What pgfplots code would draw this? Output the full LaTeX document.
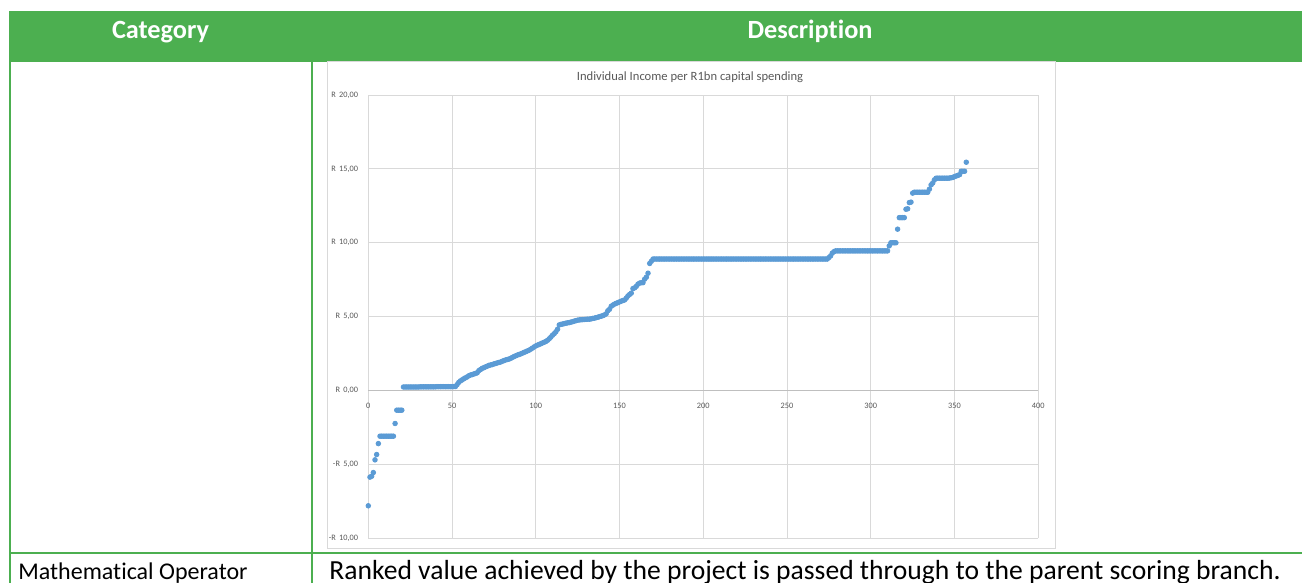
\documentclass[border=0pt]{standalone}
\usepackage{fontspec}
\setmainfont{Carlito}[Ligatures=NoCommon]
\usepackage{pgfplots}
\pgfplotsset{compat=1.18}
\definecolor{hdrgreen}{HTML}{4CAF50}
\definecolor{xlblue}{HTML}{5B9BD5}
\definecolor{gridc}{HTML}{D9D9D9}
\definecolor{zeroc}{HTML}{BFBFBF}
\definecolor{txtgray}{HTML}{595959}
\begin{document}
\begin{tikzpicture}
\begin{scope}[x=0.5pt,y=-0.5pt]
\fill[hdrgreen] (9,11) rectangle (1302,62);
\draw[hdrgreen,line width=1pt] (10,62) -- (10,583);
\draw[hdrgreen,line width=1pt] (312,62) -- (312,583);
\draw[hdrgreen,line width=1pt] (9,552.5) -- (1302,552.5);
\draw[gridc,fill=white,line width=0.5pt] (327,62) rectangle (1055,548);
\node[anchor=base,inner sep=0pt,text=white,font=\fontsize{13.15}{15}\selectfont\bfseries] at (160.5,39) {Category};
\node[anchor=base,inner sep=0pt,text=white,font=\fontsize{13.15}{15}\selectfont\bfseries] at (810,39) {Description};
\node[anchor=base west,inner sep=0pt,font=\fontsize{12}{14}\selectfont] at (18,579.5) {Mathematical Operator};
\node[anchor=base west,inner sep=0pt,font=\fontsize{13.8}{16}\selectfont] at (329,579.5) {Ranked value achieved by the project is passed through to the parent scoring branch.};
\node[anchor=base,inner sep=0pt,text=txtgray,font=\fontsize{6.3}{8}\selectfont] at (690,80.5) {Individual Income per R1bn capital spending};
\end{scope}
\begin{axis}[
  at={(184.15pt,-269.15pt)}, anchor=south west,
  scale only axis, width=335pt, height=221.65pt,
  xmin=0, xmax=400, ymin=-10, ymax=20,
  clip=false,
  xtick={0,50,...,400},
  xticklabels={0,50,100,150,200,250,300,350,400},
  ytick={-10,-5,0,5,10,15,20},
  yticklabels={{-R\hspace{0.4em}10,00},{-R\hspace{0.4em}5,00},{R\hspace{0.4em}0,00},{R\hspace{0.4em}5,00},{R\hspace{0.4em}10,00},{R\hspace{0.4em}15,00},{R\hspace{0.4em}20,00}},
  grid=major,
  major grid style={draw=gridc,line width=0.5pt},
  axis line style={draw=none},
  major tick length=0pt,
  tick label style={font=\fontsize{4.15}{5}\selectfont, text=txtgray},
  xticklabel style={yshift=71.2pt},
  yticklabel style={xshift=-1.6pt},
  extra y ticks={0},
  extra y tick labels={},
  extra y tick style={major grid style={draw=zeroc,line width=0.6pt}},
]
\addplot[only marks, mark=*, mark size=1.15pt, color=xlblue, mark options={draw=xlblue,fill=xlblue}] coordinates {
(0,-7.8)(1,-5.86)(2,-5.8)(3,-5.55)(4,-4.69)(5,-4.33)(6,-3.59)
(7,-3.09)(8,-3.09)(9,-3.09)(10,-3.09)(11,-3.09)(12,-3.09)(13,-3.09)(14,-3.09)(15,-3.09)
(16,-2.23)(17,-1.33)(18,-1.33)(19,-1.33)(20,-1.33)
(21,0.24)(22,0.24)(23,0.24)(24,0.24)(25,0.24)(26,0.24)(27,0.24)(28,0.24)(29,0.24)(30,0.24)
(31,0.25)(32,0.25)(33,0.25)(34,0.25)(35,0.25)(36,0.25)(37,0.25)(38,0.25)(39,0.25)(40,0.25)
(41,0.26)(42,0.26)(43,0.26)(44,0.26)(45,0.26)(46,0.26)(47,0.26)(48,0.26)(49,0.26)(50,0.26)
(51,0.27)(52,0.27)
(53,0.40)(54,0.55)(55,0.65)(56,0.72)(57,0.80)(58,0.86)(59,0.92)(60,1.00)
(61,1.05)(62,1.08)(63,1.12)(64,1.16)(65,1.20)(66,1.35)(67,1.42)(68,1.50)(69,1.55)(70,1.60)
(71,1.65)(72,1.70)(73,1.73)(74,1.76)(75,1.80)(76,1.83)(77,1.87)(78,1.90)(79,1.93)(80,1.98)
(81,2.03)(82,2.07)(83,2.10)(84,2.13)(85,2.18)(86,2.24)(87,2.30)(88,2.35)(89,2.40)(90,2.44)
(91,2.48)(92,2.53)(93,2.58)(94,2.63)(95,2.68)(96,2.73)(97,2.80)(98,2.87)(99,2.95)(100,3.02)
(101,3.07)(102,3.12)(103,3.17)(104,3.22)(105,3.27)(106,3.32)(107,3.40)(108,3.50)(109,3.62)(110,3.75)
(111,3.85)(112,3.98)(113,4.15)(114,4.44)(115,4.48)(116,4.50)(117,4.53)(118,4.56)(119,4.58)(120,4.60)
(121,4.63)(122,4.66)(123,4.70)(124,4.73)(125,4.76)(126,4.78)(127,4.79)(128,4.80)(129,4.81)(130,4.82)
(131,4.83)(132,4.83)(133,4.85)(134,4.88)(135,4.90)(136,4.93)(137,4.96)(138,5.00)(139,5.03)(140,5.07)
(141,5.12)(142,5.19)(143,5.40)(144,5.50)(145,5.70)(146,5.78)(147,5.85)(148,5.90)(149,5.95)(150,6.00)
(151,6.05)(152,6.09)(153,6.13)(154,6.25)(155,6.40)(156,6.50)(157,6.59)(158,6.90)(159,6.95)(160,7.05)
(161,7.20)(162,7.27)(163,7.30)(164,7.30)(165,7.54)(166,7.67)(167,7.94)(168,8.60)(169,8.75)
(170,8.9)(171,8.9)(172,8.9)(173,8.9)(174,8.9)(175,8.9)(176,8.9)(177,8.9)(178,8.9)(179,8.9)
(180,8.9)(181,8.9)(182,8.9)(183,8.9)(184,8.9)(185,8.9)(186,8.9)(187,8.9)(188,8.9)(189,8.9)
(190,8.9)(191,8.9)(192,8.9)(193,8.9)(194,8.9)(195,8.9)(196,8.9)(197,8.9)(198,8.9)(199,8.9)
(200,8.9)(201,8.9)(202,8.9)(203,8.9)(204,8.9)(205,8.9)(206,8.9)(207,8.9)(208,8.9)(209,8.9)
(210,8.9)(211,8.9)(212,8.9)(213,8.9)(214,8.9)(215,8.9)(216,8.9)(217,8.9)(218,8.9)(219,8.9)
(220,8.9)(221,8.9)(222,8.9)(223,8.9)(224,8.9)(225,8.9)(226,8.9)(227,8.9)(228,8.9)(229,8.9)
(230,8.9)(231,8.9)(232,8.9)(233,8.9)(234,8.9)(235,8.9)(236,8.9)(237,8.9)(238,8.9)(239,8.9)
(240,8.9)(241,8.9)(242,8.9)(243,8.9)(244,8.9)(245,8.9)(246,8.9)(247,8.9)(248,8.9)(249,8.9)
(250,8.9)(251,8.9)(252,8.9)(253,8.9)(254,8.9)(255,8.9)(256,8.9)(257,8.9)(258,8.9)(259,8.9)
(260,8.9)(261,8.9)(262,8.9)(263,8.9)(264,8.9)(265,8.9)(266,8.9)(267,8.9)(268,8.9)(269,8.9)
(270,8.9)(271,8.9)(272,8.9)(273,8.9)(274,8.9)
(275,9.00)(276,9.11)(277,9.30)(278,9.40)
(279,9.45)(280,9.45)(281,9.45)(282,9.45)(283,9.45)(284,9.45)(285,9.45)(286,9.45)(287,9.45)(288,9.45)
(289,9.45)(290,9.45)(291,9.45)(292,9.45)(293,9.45)(294,9.45)(295,9.45)(296,9.45)(297,9.45)(298,9.45)
(299,9.45)(300,9.45)(301,9.45)(302,9.45)(303,9.45)(304,9.45)(305,9.45)(306,9.45)(307,9.45)(308,9.45)
(309,9.45)(310,9.45)
(311,9.79)(312,10.0)(313,10.0)(314,10.0)(315,10.0)(316,10.92)
(317,11.7)(318,11.7)(319,11.7)(320,11.7)(321,12.27)(322,12.30)(323,12.72)(324,12.75)(325,13.36)
(326,13.42)(327,13.42)(328,13.42)(329,13.42)(330,13.42)(331,13.42)(332,13.42)(333,13.42)(334,13.42)
(335,13.63)(336,13.92)(337,14.05)(338,14.26)
(339,14.37)(340,14.37)(341,14.37)(342,14.37)(343,14.37)(344,14.37)(345,14.37)(346,14.37)(347,14.38)(348,14.40)
(349,14.42)(350,14.48)(351,14.52)(352,14.56)(353,14.61)(354,14.84)(355,14.84)(356,14.84)(357,15.45)
};
\end{axis}
\pgfresetboundingbox
\path[use as bounding box] (0pt,0pt) rectangle (651pt,-291.5pt);
\end{tikzpicture}
\end{document}
